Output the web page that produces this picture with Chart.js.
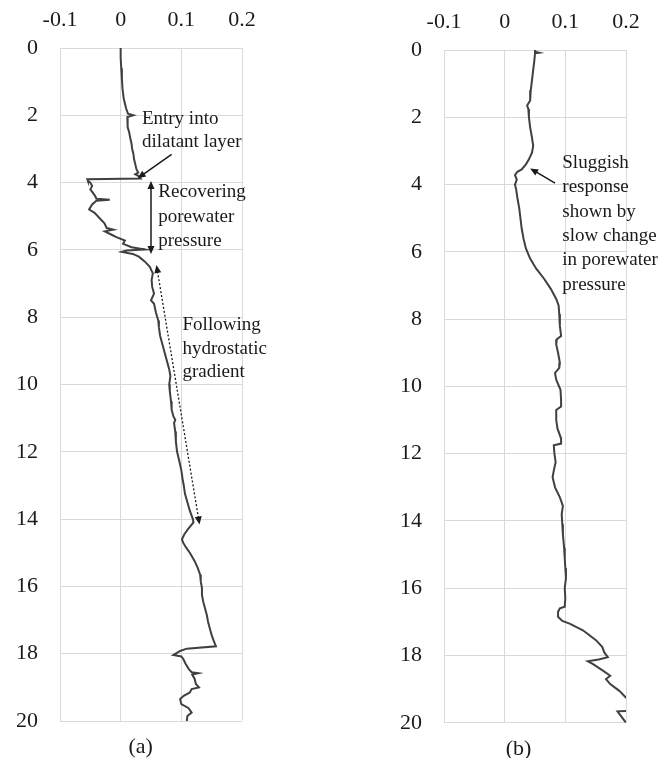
<!DOCTYPE html>
<html>
<head>
<meta charset="utf-8">
<script src="https://cdn.jsdelivr.net/npm/chart.js@4/dist/chart.umd.min.js"></script>
<style>
  html, body { margin: 0; padding: 0; background: #ffffff; }
  body { width: 661px; height: 758px; position: relative; overflow: hidden; }
  canvas { position: absolute; }
  #chartA { left: 0px; top: 0px; }
  #chartB { left: 384px; top: 2px; }
</style>
</head>
<body>
<canvas id="chartA" width="330" height="758"></canvas>
<canvas id="chartB" width="277" height="756"></canvas>
<script>
// Axis ticks shared by both profiles
const xTickValues = [-0.1, 0, 0.1, 0.2];
const xTickLabels = ['-0.1', '0', '0.1', '0.2'];
const yTickValues = [0, 2, 4, 6, 8, 10, 12, 14, 16, 18, 20];
const yTickLabels = ['0', '2', '4', '6', '8', '10', '12', '14', '16', '18', '20'];

// Profile (a): depth and porewater pressure
const depthA = [
  0.0, 0.3, 0.6, 0.9, 1.2, 1.5, 1.8, 1.95, 2.0, 2.05, 2.2, 2.35, 2.5, 2.7, 2.85, 3.0, 3.15, 3.3, 3.45, 3.6,
  3.7, 3.75, 3.82, 3.88, 3.9, 3.95, 4.0, 4.1, 4.2, 4.3, 4.4, 4.48, 4.51, 4.54, 4.65, 4.8, 4.9, 5.05, 5.2, 5.35,
  5.4, 5.45, 5.55, 5.62, 5.72, 5.82, 5.92, 5.99, 6.02, 6.06, 6.12, 6.2, 6.35, 6.5, 6.7, 6.9, 7.1, 7.3, 7.5, 7.6,
  7.85, 8.1, 8.3, 8.55, 8.75, 8.95, 9.15, 9.35, 9.55, 9.75, 10.0, 10.2, 10.5, 10.75, 10.95, 11.05, 11.15, 11.4, 11.7, 12.0,
  12.3, 12.55, 12.8, 13.0, 13.25, 13.5, 13.75, 14.0, 14.1, 14.3, 14.45, 14.6, 14.7, 14.85, 15.0, 15.25, 15.45, 15.65, 15.85, 16.05,
  16.25, 16.45, 16.65, 16.85, 17.05, 17.25, 17.45, 17.6, 17.78, 17.85, 17.92, 18.04, 18.08, 18.15, 18.3, 18.45, 18.55, 18.58, 18.62, 18.75,
  18.9, 19.0, 19.05, 19.15, 19.25, 19.35, 19.5, 19.62, 19.75, 19.85, 20.0
];
const pressureA = [
  0.000, 0.000, 0.001, 0.002, 0.003, 0.005, 0.009, 0.012, 0.021, 0.011, 0.012, 0.011, 0.014, 0.016, 0.018, 0.019, 0.021, 0.022, 0.024, 0.026,
  0.029, 0.024, 0.031, 0.033, -0.055, -0.054, -0.050, -0.047, -0.050, -0.046, -0.042, -0.040, -0.018, -0.040, -0.047, -0.052, -0.043, -0.035, -0.027, -0.023,
  -0.012, -0.026, -0.015, -0.007, 0.007, 0.004, 0.018, 0.040, 0.010, 0.002, 0.020, 0.030, 0.040, 0.048, 0.053, 0.051, 0.052, 0.055, 0.050, 0.055,
  0.058, 0.062, 0.063, 0.065, 0.068, 0.071, 0.074, 0.077, 0.080, 0.082, 0.080, 0.081, 0.083, 0.084, 0.087, 0.090, 0.088, 0.090, 0.091, 0.093,
  0.097, 0.100, 0.102, 0.104, 0.106, 0.110, 0.114, 0.119, 0.120, 0.111, 0.105, 0.101, 0.103, 0.108, 0.114, 0.122, 0.127, 0.131, 0.132, 0.134,
  0.134, 0.136, 0.139, 0.142, 0.144, 0.147, 0.150, 0.153, 0.157, 0.109, 0.098, 0.087, 0.100, 0.103, 0.107, 0.112, 0.117, 0.128, 0.118, 0.122,
  0.124, 0.129, 0.117, 0.114, 0.104, 0.098, 0.100, 0.112, 0.117, 0.110, 0.109
];

// Profile (b): depth and porewater pressure
const depthB = [
  0.0, 0.05, 0.08, 0.1, 0.3, 0.6, 0.9, 1.2, 1.5, 1.65, 1.75, 2.0, 2.3, 2.6, 2.85, 3.05, 3.25, 3.4, 3.55, 3.62,
  3.72, 3.85, 4.0, 4.15, 4.4, 4.7, 5.0, 5.3, 5.6, 5.9, 6.2, 6.5, 6.8, 7.1, 7.4, 7.6, 7.85, 8.2, 8.5, 8.6,
  8.75, 9.0, 9.3, 9.45, 9.6, 9.8, 10.1, 10.4, 10.6, 10.7, 11.0, 11.25, 11.55, 11.7, 11.75, 12.0, 12.25, 12.5, 12.7, 13.0,
  13.3, 13.55, 13.8, 14.1, 14.4, 14.8, 15.1, 15.4, 15.7, 16.0, 16.3, 16.55, 16.6, 16.7, 16.85, 16.97, 17.05, 17.25, 17.55, 17.75,
  17.9, 18.05, 18.12, 18.17, 18.25, 18.45, 18.6, 18.7, 18.85, 19.05, 19.25, 19.4, 19.6, 19.64, 19.66, 20.0
];
const pressureB = [
  0.051, 0.050, 0.057, 0.050, 0.049, 0.047, 0.045, 0.043, 0.042, 0.037, 0.039, 0.040, 0.042, 0.045, 0.047, 0.045, 0.040, 0.035, 0.028, 0.021,
  0.017, 0.020, 0.017, 0.019, 0.021, 0.024, 0.026, 0.028, 0.031, 0.035, 0.042, 0.052, 0.065, 0.076, 0.085, 0.089, 0.090, 0.091, 0.093, 0.086,
  0.085, 0.088, 0.091, 0.090, 0.083, 0.085, 0.092, 0.093, 0.093, 0.085, 0.085, 0.087, 0.093, 0.093, 0.081, 0.082, 0.084, 0.081, 0.079, 0.083,
  0.091, 0.096, 0.094, 0.095, 0.096, 0.098, 0.099, 0.100, 0.101, 0.099, 0.100, 0.099, 0.091, 0.088, 0.088, 0.095, 0.107, 0.129, 0.151, 0.161,
  0.164, 0.170, 0.155, 0.137, 0.145, 0.162, 0.174, 0.167, 0.174, 0.189, 0.200, 0.215, 0.228, 0.215, 0.186, 0.200
];

// Callouts, positioned in data units (pressure, depth)
const notesA = {
  texts: [
    { t: 'Entry into', x: 0.035, y: 2.26 },
    { t: 'dilatant layer', x: 0.035, y: 2.93 },
    { t: 'Recovering', x: 0.062, y: 4.43 },
    { t: 'porewater', x: 0.062, y: 5.16 },
    { t: 'pressure', x: 0.062, y: 5.88 },
    { t: 'Following', x: 0.102, y: 8.38 },
    { t: 'hydrostatic', x: 0.102, y: 9.09 },
    { t: 'gradient', x: 0.102, y: 9.79 }
  ],
  arrows: [
    { x1: 0.084, y1: 3.16, x2: 0.028, y2: 3.87, heads: 'end', dash: false },
    { x1: 0.050, y1: 6.12, x2: 0.050, y2: 3.95, heads: 'both', dash: false },
    { x1: 0.059, y1: 6.45, x2: 0.130, y2: 14.16, heads: 'both', dash: true }
  ],
  caption: { t: '(a)', x: 0.033 }
};
const notesB = {
  texts: [
    { t: 'Sluggish', x: 0.095, y: 3.52 },
    { t: 'response', x: 0.095, y: 4.23 },
    { t: 'shown by', x: 0.095, y: 4.96 },
    { t: 'slow change', x: 0.095, y: 5.68 },
    { t: 'in porewater', x: 0.095, y: 6.39 },
    { t: 'pressure', x: 0.095, y: 7.12 }
  ],
  arrows: [
    { x1: 0.083, y1: 3.96, x2: 0.042, y2: 3.52, heads: 'end', dash: false }
  ],
  caption: { t: '(b)', x: 0.023 }
};

const SERIF = '"Liberation Serif", "Times New Roman", serif';
const INK = '#1a1a1a';
const GRID = '#d9d9d9';

function arrowHead(ctx, fx, fy, tx, ty, len, half) {
  const a = Math.atan2(ty - fy, tx - fx);
  ctx.beginPath();
  ctx.moveTo(tx, ty);
  ctx.lineTo(tx - len * Math.cos(a) + half * Math.sin(a), ty - len * Math.sin(a) - half * Math.cos(a));
  ctx.lineTo(tx - len * Math.cos(a) - half * Math.sin(a), ty - len * Math.sin(a) + half * Math.cos(a));
  ctx.closePath();
  ctx.fill();
}

// Draws callout text, arrows and the panel caption on top of the profile
const notesPlugin = {
  id: 'notes',
  afterDraw(chart, args, opts) {
    const ctx = chart.ctx;
    const xs = chart.scales.x, ys = chart.scales.y;
    ctx.save();
    ctx.fillStyle = INK;
    ctx.strokeStyle = INK;
    ctx.font = '19px ' + SERIF;
    ctx.textAlign = 'left';
    ctx.textBaseline = 'alphabetic';
    (opts.texts || []).forEach(n => {
      ctx.fillText(n.t, xs.getPixelForValue(n.x), ys.getPixelForValue(n.y));
    });
    (opts.arrows || []).forEach(a => {
      const x1 = xs.getPixelForValue(a.x1), y1 = ys.getPixelForValue(a.y1);
      const x2 = xs.getPixelForValue(a.x2), y2 = ys.getPixelForValue(a.y2);
      const len = Math.hypot(x2 - x1, y2 - y1);
      const ux = (x2 - x1) / len, uy = (y2 - y1) / len;
      const hl = a.dash ? 8 : 8;
      const sx = a.heads === 'both' ? x1 + ux * hl * 0.8 : x1;
      const sy = a.heads === 'both' ? y1 + uy * hl * 0.8 : y1;
      ctx.beginPath();
      ctx.lineWidth = a.dash ? 1.3 : 1.5;
      ctx.setLineDash(a.dash ? [2, 2] : []);
      ctx.moveTo(sx, sy);
      ctx.lineTo(x2 - ux * hl * 0.8, y2 - uy * hl * 0.8);
      ctx.stroke();
      ctx.setLineDash([]);
      arrowHead(ctx, x1, y1, x2, y2, hl, 3.5);
      if (a.heads === 'both') arrowHead(ctx, x2, y2, x1, y1, hl, 3.5);
    });
    if (opts.caption) {
      ctx.font = '22px ' + SERIF;
      ctx.textAlign = 'center';
      ctx.textBaseline = 'middle';
      ctx.fillText(opts.caption.t, xs.getPixelForValue(opts.caption.x), chart.chartArea.bottom + 26);
    }
    ctx.restore();
  }
};

function makeProfile(id, depth, pressure, notes, padRight, padBottom) {
  const points = depth.map((d, i) => ({ x: pressure[i], y: d }));
  return new Chart(document.getElementById(id), {
    type: 'scatter',
    data: {
      datasets: [{
        data: points,
        showLine: true,
        borderColor: '#404040',
        borderWidth: 2,
        pointRadius: 0,
        tension: 0,
        fill: false
      }]
    },
    options: {
      responsive: false,
      devicePixelRatio: 1,
      animation: false,
      layout: { padding: { left: 0, top: 0, right: padRight, bottom: padBottom } },
      plugins: {
        legend: { display: false },
        tooltip: { enabled: false },
        notes: notes
      },
      scales: {
        x: {
          type: 'linear',
          position: 'top',
          min: -0.1,
          max: 0.2,
          afterBuildTicks: s => { s.ticks = xTickValues.map(v => ({ value: v })); },
          afterFit: s => { s.height = 48; },
          ticks: {
            autoSkip: false,
            maxRotation: 0,
            padding: 15,
            color: INK,
            font: { family: SERIF, size: 22 },
            callback: (v, i) => xTickLabels[i]
          },
          grid: { color: GRID, lineWidth: 1, drawTicks: false },
          border: { color: GRID, width: 1 }
        },
        y: {
          type: 'linear',
          reverse: true,
          min: 0,
          max: 20,
          afterBuildTicks: s => { s.ticks = yTickValues.map(v => ({ value: v })); },
          afterFit: s => { s.width = 60; },
          ticks: {
            autoSkip: false,
            padding: 22,
            color: INK,
            font: { family: SERIF, size: 22 },
            callback: (v, i) => yTickLabels[i]
          },
          grid: { color: GRID, lineWidth: 1, drawTicks: false },
          border: { color: GRID, width: 1 }
        }
      }
    },
    plugins: [notesPlugin]
  });
}

makeProfile('chartA', depthA, pressureA, notesA, 88, 37);
makeProfile('chartB', depthB, pressureB, notesB, 35, 35);
</script>
</body>
</html>
